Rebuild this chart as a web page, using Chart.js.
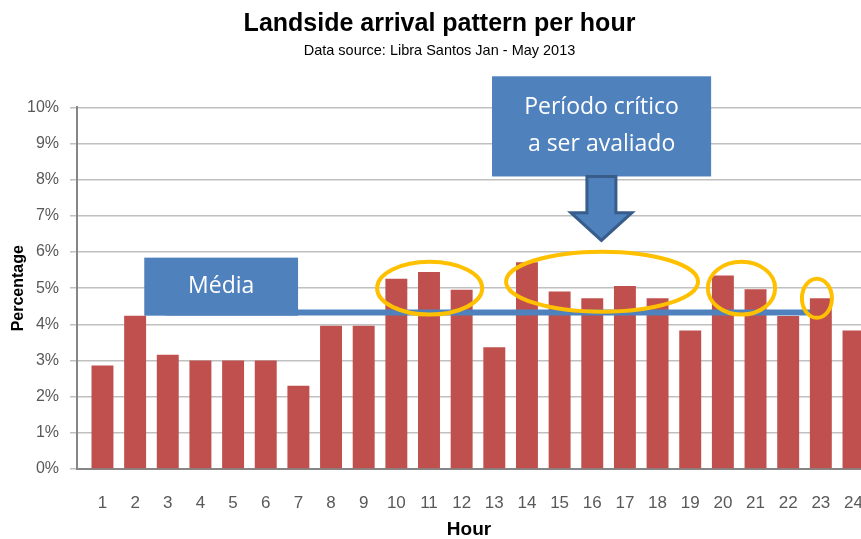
<!DOCTYPE html>
<html>
<head>
<meta charset="utf-8">
<script src="https://cdn.jsdelivr.net/npm/chart.js@4"></script>
<style>
  html, body { margin: 0; padding: 0; background: #fff; overflow: hidden; }
</style>
</head>
<body>
<canvas id="arrivalChart" width="861" height="539"></canvas>
<script>
// values (percentage of arrivals per hour)
const hours = [1, 2, 3, 4, 5, 6, 7, 8, 9, 10, 11, 12, 13, 14, 15, 16, 17, 18, 19, 20, 21, 22, 23, 24];
const arrivals = [2.86, 4.24, 3.16, 3.0, 3.0, 3.0, 2.30, 3.96, 3.96, 5.26, 5.45, 4.96,
                  3.37, 5.72, 4.91, 4.72, 5.06, 4.72, 3.83, 5.35, 4.97, 4.23, 4.72, 3.83];
const mediaValue = 4.33;

const BLUE = '#4F81BD';
const YELLOW = '#FFC000';
const noteFont = '23px "Open Sans", "Noto Sans", sans-serif';

// hand drawn notes laid over the chart (boxes, arrow, circles)
const overlay = {
  id: 'overlay',
  afterDatasetsDraw(chart) {
    const { ctx, scales: { x, y } } = chart;
    const px = h => x.getPixelForValue(h);
    const py = v => y.getPixelForValue(v);
    ctx.save();

    // "Média" box and line
    ctx.fillStyle = BLUE;
    ctx.fillRect(px(2.28), py(5.845), px(6.99) - px(2.28), py(4.24) - py(5.845));
    ctx.strokeStyle = BLUE;
    ctx.lineWidth = 6;
    ctx.beginPath();
    ctx.moveTo(px(2.94), py(mediaValue));
    ctx.lineTo(px(22.67), py(mediaValue));
    ctx.stroke();

    ctx.fillStyle = '#fff';
    ctx.font = noteFont;
    ctx.textAlign = 'center';
    ctx.textBaseline = 'middle';
    ctx.fillText('Média', (px(2.28) + px(6.99)) / 2, (py(5.845) + py(4.24)) / 2);

    // "Período crítico" box
    const bx0 = px(12.93), bx1 = px(19.64), by0 = py(10.86), by1 = py(8.09);
    ctx.fillStyle = BLUE;
    ctx.fillRect(bx0, by0, bx1 - bx0, by1 - by0);
    ctx.fillStyle = '#fff';
    const bcx = (bx0 + bx1) / 2, bcy = (by0 + by1) / 2;
    ctx.fillText('Período crítico', bcx, bcy - 18.5);
    ctx.fillText('a ser avaliado', bcx, bcy + 18.5);

    // down arrow
    const ax = px(16.28), aTop = py(8.09), aMid = py(7.09), aTip = py(6.32);
    ctx.beginPath();
    ctx.moveTo(ax - 14.5, aTop);
    ctx.lineTo(ax + 14.5, aTop);
    ctx.lineTo(ax + 14.5, aMid);
    ctx.lineTo(ax + 30.5, aMid);
    ctx.lineTo(ax, aTip);
    ctx.lineTo(ax - 30.5, aMid);
    ctx.lineTo(ax - 14.5, aMid);
    ctx.closePath();
    ctx.fillStyle = BLUE;
    ctx.fill();
    ctx.strokeStyle = '#385D8A';
    ctx.lineWidth = 3;
    ctx.stroke();

    // yellow circles
    const rings = [
      [11.02, 5.0, 1.61, 0.73],
      [16.30, 5.18, 2.94, 0.83],
      [20.57, 5.0, 1.03, 0.73],
      [22.88, 4.72, 0.46, 0.54]
    ];
    ctx.strokeStyle = YELLOW;
    ctx.lineWidth = 4;
    rings.forEach(([h, v, rh, rv]) => {
      const cx = px(h), cy = py(v);
      ctx.beginPath();
      ctx.ellipse(cx, cy, px(h + rh) - cx, cy - py(v + rv), 0, 0, Math.PI * 2);
      ctx.stroke();
    });

    ctx.restore();
  }
};

new Chart(document.getElementById('arrivalChart'), {
  type: 'bar',
  data: {
    datasets: [{
      data: hours.map((h, i) => ({ x: h, y: arrivals[i] })),
      backgroundColor: '#C0504D',
      borderWidth: 0,
      barPercentage: 0.84,
      categoryPercentage: 0.8
    }]
  },
  options: {
    responsive: false,
    animation: false,
    layout: { padding: { top: 9, left: 18, right: 0, bottom: 0 } },
    plugins: {
      legend: { display: false },
      tooltip: { enabled: false },
      title: {
        display: true,
        text: 'Landside arrival pattern per hour',
        color: '#000',
        font: { family: "'Liberation Sans', Arial, sans-serif", size: 25, weight: 'bold' },
        padding: { top: 0, bottom: 3 }
      },
      subtitle: {
        display: true,
        text: 'Data source: Libra Santos Jan - May 2013',
        color: '#000',
        font: { family: "'Liberation Sans', Arial, sans-serif", size: 14.5 },
        padding: { top: 0, bottom: 48 }
      }
    },
    scales: {
      x: {
        type: 'linear',
        offset: false,
        min: 0.22,
        max: 24.23,
        grid: { display: false, drawTicks: false },
        border: { color: '#868686', width: 2 },
        ticks: {
          stepSize: 1,
          includeBounds: false,
          autoSkip: false,
          maxRotation: 0,
          padding: 24,
          color: '#595959',
          font: { family: "'Liberation Sans Narrow', 'Liberation Sans', Arial", size: 17 },
          callback: v => hours.includes(v) ? String(v) : ''
        },
        title: {
          display: true,
          text: 'Hour',
          color: '#000',
          font: { family: "'Liberation Sans', Arial, sans-serif", size: 19, weight: 'bold', lineHeight: 1 },
          padding: 0
        },
        afterFit: s => { s.height = 70; s.paddingLeft = 0; s.paddingRight = 0; }
      },
      y: {
        min: 0,
        max: 10,
        ticks: {
          stepSize: 1,
          padding: 11,
          color: '#595959',
          font: { family: "'Liberation Sans', Arial, sans-serif", size: 16 },
          callback: v => v + '%'
        },
        grid: { color: '#c0c0c0', lineWidth: 1.5, tickLength: 7 },
        border: { color: '#868686', width: 2 },
        title: {
          display: true,
          text: 'Percentage',
          color: '#000',
          font: { family: "'Liberation Sans', Arial, sans-serif", size: 16, weight: 'bold' },
          padding: { top: -9 }
        },
        afterFit: s => { s.width = 59; }
      }
    }
  },
  plugins: [overlay]
});
</script>
</body>
</html>
